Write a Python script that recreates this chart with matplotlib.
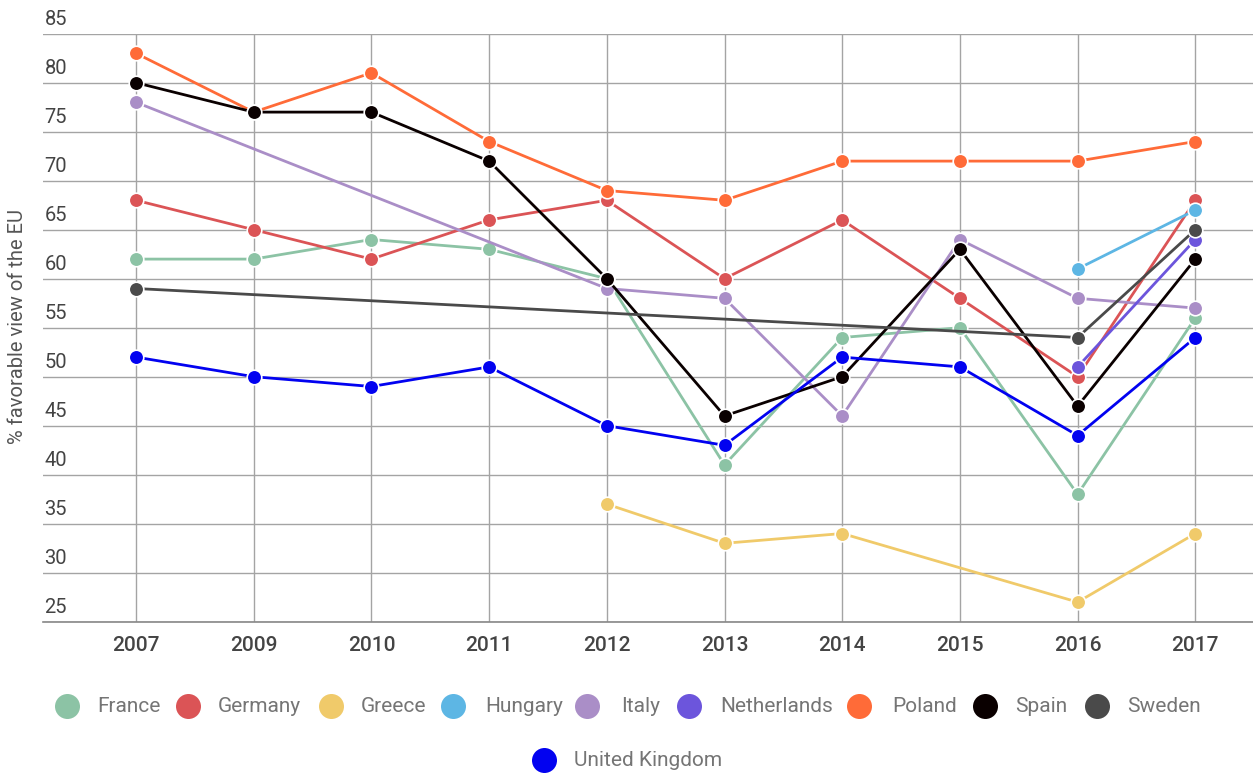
import numpy as np
import matplotlib
matplotlib.use("Agg")
import matplotlib.pyplot as plt
import matplotlib.transforms as mtransforms

years = ["2007", "2009", "2010", "2011", "2012", "2013", "2014", "2015", "2016", "2017"]
nan = np.nan
france      = [62, 62, 64, 63, 60, 41, 54, 55, 38, 56]
germany     = [68, 65, 62, 66, 68, 60, 66, 58, 50, 68]
greece      = [nan, nan, nan, nan, 37, 33, 34, nan, 27, 34]
hungary     = [nan, nan, nan, nan, nan, nan, nan, nan, 61, 67]
italy       = [78, nan, nan, nan, 59, 58, 46, 64, 58, 57]
netherlands = [nan, nan, nan, nan, nan, nan, nan, nan, 51, 64]
poland      = [83, 77, 81, 74, 69, 68, 72, 72, 72, 74]
spain       = [80, 77, 77, 72, 60, 46, 50, 63, 47, 62]
sweden      = [59, nan, nan, nan, nan, nan, nan, nan, 54, 65]
uk          = [52, 50, 49, 51, 45, 43, 52, 51, 44, 54]

names = ["France", "Germany", "Greece", "Hungary", "Italy", "Netherlands",
         "Poland", "Spain", "Sweden", "United Kingdom"]
series = [france, germany, greece, hungary, italy, netherlands, poland, spain, sweden, uk]
colors = ["#8cc3a5", "#db5456", "#f0ca6a", "#5db6e4", "#aa8ec7", "#6c55dc",
          "#ff6b38", "#0a0000", "#4a4a4a", "#0202f0"]

plt.rcParams['font.family'] = ['Roboto', 'DejaVu Sans']

W, H = 1253, 775
fig = plt.figure(figsize=(W / 100, H / 100), dpi=100)
left, right, top, bottom = 43, 1253, 33.7, 621.7
ax = fig.add_axes([left / W, 1 - bottom / H, (right - left) / W, (bottom - top) / H])

x = np.arange(len(years))
for vals, c, n in zip(series, colors, names):
    v = np.array(vals, dtype=float)
    m = ~np.isnan(v)
    ax.plot(x[m], v[m], color=c, lw=2.0, marker='o', ms=10.5,
            markerfacecolor=c, markeredgecolor='white', markeredgewidth=1.2,
            label=n, zorder=3, clip_on=False)

ax.set_xlim(-0.79, 9.49)
ax.set_ylim(25, 85)
ax.set_xticks(x)
ax.set_xticklabels(years)
ax.set_yticks(np.arange(25, 86, 5))

ax.grid(True, color='#a4a4a4', lw=1.0, zorder=0)
ax.set_axisbelow(True)
for s in ['top', 'right', 'left']:
    ax.spines[s].set_visible(False)
ax.spines['bottom'].set_color('#888888')
ax.spines['bottom'].set_linewidth(1.2)

ax.tick_params(axis='x', length=0, pad=10, labelsize=15, labelcolor='#444444')
ax.tick_params(axis='y', length=0, pad=-1, labelsize=14.5, labelcolor='#444444')
for lab in ax.get_xticklabels():
    lab.set_fontweight('medium')
offset = mtransforms.ScaledTranslation(0, 5 / 100, fig.dpi_scale_trans)
for lab in ax.get_yticklabels():
    lab.set_ha('left')
    lab.set_va('bottom')
    lab.set_transform(lab.get_transform() + offset)

fig.text(18 / W, 1 - 327 / H, "% favorable view of the EU", rotation=90,
         ha='center', va='center', fontsize=14.5, color='#555555')

# legend (manual layout)
leg_marker_x = [67, 188, 331, 453, 587, 689, 859, 985, 1097, 544]
leg_text_x   = [97, 218, 361, 485, 621, 720, 892, 1015, 1127, 574]
leg_y        = [706] * 9 + [760]
for n, c, mx, tx, ly in zip(names, colors, leg_marker_x, leg_text_x, leg_y):
    fig.lines.append(plt.Line2D([mx / W], [1 - ly / H], transform=fig.transFigure,
                                marker='o', ms=18, color=c, markeredgewidth=0,
                                linestyle='none'))
    fig.text(tx / W, 1 - ly / H, n, ha='left', va='center', fontsize=15,
             color='#757575')

fig.savefig("out.png", dpi=100)
